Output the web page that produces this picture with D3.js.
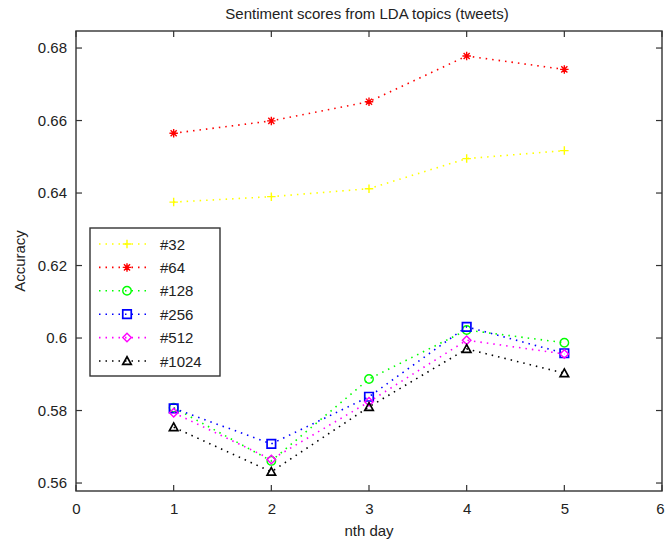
<!DOCTYPE html>
<html>
<head>
<meta charset="utf-8">
<script src="https://cdn.jsdelivr.net/npm/d3@7"></script>
<style>
  html, body { margin: 0; padding: 0; background: #fff; }
  svg text { font-family: "Liberation Sans", Arial, sans-serif; fill: #222; }
</style>
</head>
<body>
<svg id="chart" width="665" height="547"></svg>
<script>
// Days on the x axis
const days = [1, 2, 3, 4, 5];

// Accuracy per number of LDA topics
const acc32   = [0.6375, 0.6390, 0.6412, 0.6495, 0.6517];
const acc64   = [0.6565, 0.6599, 0.6652, 0.6778, 0.6741];
const acc128  = [0.5808, 0.5661, 0.5887, 0.6022, 0.5987];
const acc256  = [0.5806, 0.5708, 0.5838, 0.6031, 0.5958];
const acc512  = [0.5794, 0.5665, 0.5824, 0.5994, 0.5956];
const acc1024 = [0.5754, 0.5631, 0.5810, 0.5970, 0.5903];

const seriesNames = ["#32", "#64", "#128", "#256", "#512", "#1024"];
const seriesColors = ["#ffff00", "#ff0000", "#00ff00", "#0000ff", "#ff00ff", "#000000"];
const seriesMarkers = ["plus", "star", "circle", "square", "diamond", "triangle"];
const seriesValues = [acc32, acc64, acc128, acc256, acc512, acc1024];

const xTicks = [0, 1, 2, 3, 4, 5, 6];
const yTicks = [0.56, 0.58, 0.60, 0.62, 0.64, 0.66, 0.68];

const titleText = "Sentiment scores from LDA topics (tweets)";
const xLabel = "nth day";
const yLabel = "Accuracy";

const svg = d3.select("#chart");
const plot = { left: 76, right: 662, top: 31, bottom: 491 };

const x = d3.scaleLinear().domain([0, 6]).range([plot.left, plot.right]);
const y = d3.scaleLinear().domain([0.5578, 0.6847]).range([plot.bottom, plot.top]);

const axisColor = "#333";
const fontSize = 15;
const dotted = "1.5,5";

// Marker shapes (MATLAB-like)
function markerPath(type, s) {
  const h = s / 2;
  switch (type) {
    case "plus": return `M${-h},0H${h}M0,${-h}V${h}`;
    case "star": {
      const d = h * 0.72;
      return `M${-h},0H${h}M0,${-h}V${h}M${-d},${-d}L${d},${d}M${-d},${d}L${d},${-d}`;
    }
    case "circle": return `M${h},0A${h},${h} 0 1,1 ${-h},0A${h},${h} 0 1,1 ${h},0Z`;
    case "square": return `M${-h},${-h}H${h}V${h}H${-h}Z`;
    case "diamond": return `M0,${-h}L${h},0L0,${h}L${-h},0Z`;
    case "triangle": return `M0,${-h}L${h},${h * 0.8}L${-h},${h * 0.8}Z`;
  }
}

function drawMarker(g, type, color, cx, cy) {
  g.append("path")
    .attr("d", markerPath(type, 8.5))
    .attr("transform", `translate(${cx},${cy})`)
    .attr("fill", "none")
    .attr("stroke", color)
    .attr("stroke-width", type === "square" || type === "triangle" ? 1.7 : 1.4);
}

// Background box
svg.append("rect")
  .attr("x", plot.left).attr("y", plot.top)
  .attr("width", plot.right - plot.left).attr("height", plot.bottom - plot.top)
  .attr("fill", "#fff");

// Axes (ticks pointing inward)
const tickLen = 6;
const axisBottom = d3.axisBottom(x).tickValues(xTicks).tickSize(0).tickPadding(12).tickFormat(d3.format("d"));
const axisLeft = d3.axisLeft(y).tickValues(yTicks).tickSize(0).tickPadding(9).tickFormat(d => String(+d.toFixed(2)));

const gx = svg.append("g").attr("transform", `translate(0,${plot.bottom})`).call(axisBottom);
const gy = svg.append("g").attr("transform", `translate(${plot.left},0)`).call(axisLeft);
[gx, gy].forEach(g => {
  g.select(".domain").remove();
  g.selectAll("text").attr("font-size", fontSize).attr("fill", "#222")
    .attr("font-family", "'Liberation Sans', Arial, sans-serif");
});
// keep the last x tick label inside the window
gx.selectAll(".tick").filter(d => d === 6).select("text").attr("dx", -2);

const ticks = svg.append("g").attr("stroke", axisColor).attr("stroke-width", 1.2);
xTicks.forEach(t => {
  ticks.append("line").attr("x1", x(t)).attr("x2", x(t)).attr("y1", plot.bottom).attr("y2", plot.bottom - tickLen);
  ticks.append("line").attr("x1", x(t)).attr("x2", x(t)).attr("y1", plot.top).attr("y2", plot.top + tickLen);
});
yTicks.forEach(t => {
  ticks.append("line").attr("x1", plot.left).attr("x2", plot.left + tickLen).attr("y1", y(t)).attr("y2", y(t));
  ticks.append("line").attr("x1", plot.right).attr("x2", plot.right - tickLen).attr("y1", y(t)).attr("y2", y(t));
});

// Series lines and markers
const line = d3.line().x((d, i) => x(days[i])).y(d => y(d));
seriesValues.forEach((vals, si) => {
  const g = svg.append("g");
  g.append("path")
    .datum(vals)
    .attr("d", line)
    .attr("fill", "none")
    .attr("stroke", seriesColors[si])
    .attr("stroke-width", 1.6)
    .attr("stroke-dasharray", dotted);
  vals.forEach((v, i) => drawMarker(g, seriesMarkers[si], seriesColors[si], x(days[i]), y(v)));
});

// Plot frame
svg.append("rect")
  .attr("x", plot.left).attr("y", plot.top)
  .attr("width", plot.right - plot.left).attr("height", plot.bottom - plot.top)
  .attr("fill", "none").attr("stroke", axisColor).attr("stroke-width", 1.4);

// Title and axis labels
svg.append("text").attr("x", (plot.left + plot.right) / 2 - 2).attr("y", 19)
  .attr("text-anchor", "middle").attr("font-size", fontSize).text(titleText);
svg.append("text").attr("x", (plot.left + plot.right) / 2).attr("y", 536)
  .attr("text-anchor", "middle").attr("font-size", fontSize).text(xLabel);
svg.append("text").attr("transform", `translate(25,${(plot.top + plot.bottom) / 2}) rotate(-90)`)
  .attr("text-anchor", "middle").attr("font-size", fontSize).text(yLabel);

// Legend
const legend = { x: 90, y: 228, w: 130, h: 148, row: 23.4 };
const lg = svg.append("g");
lg.append("rect")
  .attr("x", legend.x).attr("y", legend.y).attr("width", legend.w).attr("height", legend.h)
  .attr("fill", "#fff").attr("stroke", axisColor).attr("stroke-width", 1.4);
seriesNames.forEach((name, si) => {
  const cy = legend.y + 16 + si * legend.row;
  lg.append("line")
    .attr("x1", legend.x + 9).attr("x2", legend.x + 61).attr("y1", cy).attr("y2", cy)
    .attr("stroke", seriesColors[si]).attr("stroke-width", 1.6).attr("stroke-dasharray", dotted);
  drawMarker(lg, seriesMarkers[si], seriesColors[si], legend.x + 37, cy);
  lg.append("text").attr("x", legend.x + 70).attr("y", cy + 5.5)
    .attr("font-size", fontSize).text(name);
});
</script>
</body>
</html>
